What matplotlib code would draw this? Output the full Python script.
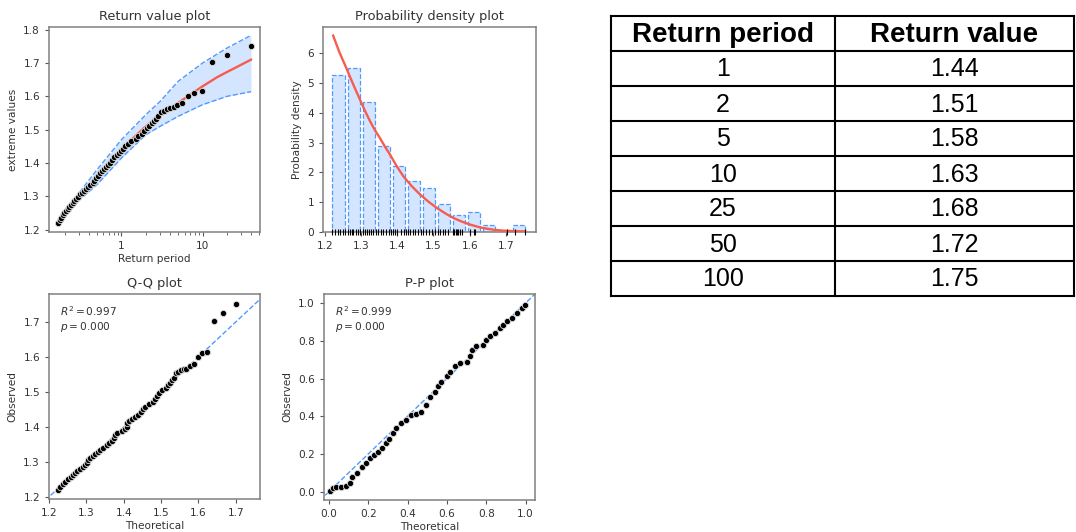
import numpy as np
import matplotlib.pyplot as plt
from matplotlib.ticker import FixedLocator, NullFormatter, FixedFormatter

# observed extremes (ascending), their plotted return periods and Q-Q theoretical quantiles
observed = [1.220, 1.228, 1.236, 1.243, 1.250, 1.257, 1.263, 1.269, 1.274, 1.279,
            1.285, 1.291, 1.298, 1.306, 1.311, 1.317, 1.322, 1.327, 1.333, 1.340,
            1.347, 1.354, 1.361, 1.369, 1.376, 1.382, 1.388, 1.393, 1.399, 1.410,
            1.418, 1.424, 1.429, 1.435, 1.443, 1.450, 1.458, 1.465, 1.472, 1.480,
            1.488, 1.496, 1.505, 1.512, 1.519, 1.526, 1.533, 1.540, 1.553, 1.556,
            1.562, 1.565, 1.567, 1.573, 1.579, 1.600, 1.611, 1.615, 1.703, 1.725, 1.752]
return_period = [0.167, 0.175, 0.182, 0.189, 0.197, 0.207, 0.218, 0.228, 0.238, 0.250,
                 0.262, 0.275, 0.288, 0.310, 0.325, 0.345, 0.365, 0.385, 0.410, 0.440,
                 0.460, 0.490, 0.520, 0.550, 0.580, 0.610, 0.650, 0.690, 0.720, 0.770,
                 0.820, 0.870, 0.930, 1.000, 1.060, 1.120, 1.220, 1.320, 1.500, 1.620,
                 1.770, 1.900, 2.050, 2.200, 2.350, 2.550, 2.700, 2.850, 3.050, 3.300,
                 3.600, 3.950, 4.400, 4.900, 5.600, 6.600, 7.900, 9.900, 13.2, 19.8, 39.5]
qq_theoretical = [1.224, 1.229, 1.237, 1.244, 1.251, 1.258, 1.263, 1.269, 1.276, 1.283,
                  1.290, 1.297, 1.301, 1.305, 1.311, 1.318, 1.324, 1.331, 1.337, 1.345,
                  1.354, 1.362, 1.368, 1.375, 1.378, 1.382, 1.396, 1.403, 1.408, 1.410,
                  1.413, 1.422, 1.430, 1.439, 1.447, 1.452, 1.457, 1.468, 1.478, 1.484,
                  1.489, 1.495, 1.502, 1.512, 1.519, 1.524, 1.529, 1.534, 1.541, 1.546,
                  1.553, 1.561, 1.568, 1.578, 1.588, 1.600, 1.611, 1.624, 1.642, 1.665, 1.700]

# fitted return value curve and confidence band
fit_rp = [0.167, 0.2, 0.3, 0.5, 0.75, 1, 1.5, 2, 3, 5, 7, 10, 15, 20, 25, 30, 39.5]
fit_value = [1.220, 1.245, 1.298, 1.355, 1.402, 1.440, 1.482, 1.510, 1.545, 1.580,
             1.605, 1.630, 1.657, 1.673, 1.685, 1.695, 1.710]
ci_rp = [0.167, 0.3, 0.5, 1, 2, 3, 5, 10, 20, 39.5]
ci_lower = [1.218, 1.288, 1.335, 1.415, 1.485, 1.510, 1.540, 1.575, 1.600, 1.614]
ci_upper = [1.222, 1.310, 1.380, 1.470, 1.545, 1.585, 1.645, 1.700, 1.745, 1.783]

# histogram and fitted pdf
hist_edges = [1.217, 1.259, 1.300, 1.342, 1.383, 1.425, 1.466, 1.508, 1.549, 1.591,
              1.632, 1.674, 1.715, 1.757]
hist_density = [5.29, 5.52, 4.37, 2.88, 2.21, 1.70, 1.48, 0.95, 0.58, 0.68, 0.22, 0.0, 0.24]
pdf_x = [1.223, 1.240, 1.258, 1.277, 1.297, 1.311, 1.325, 1.338, 1.352, 1.366, 1.380,
         1.398, 1.417, 1.440, 1.463, 1.486, 1.509, 1.532, 1.555, 1.578, 1.601, 1.624,
         1.647, 1.670, 1.694, 1.723, 1.753]
pdf_y = [6.60, 6.05, 5.55, 5.00, 4.45, 4.07, 3.72, 3.43, 3.16, 2.87, 2.60,
         2.22, 1.87, 1.54, 1.26, 1.02, 0.81, 0.63, 0.47, 0.35, 0.25, 0.17,
         0.11, 0.07, 0.045, 0.03, 0.02]

# P-P plot
pp_theoretical = [0.004, 0.020, 0.034, 0.059, 0.085, 0.105, 0.119, 0.143, 0.170, 0.190,
                  0.207, 0.229, 0.250, 0.272, 0.289, 0.306, 0.326, 0.343, 0.368, 0.394,
                  0.419, 0.445, 0.470, 0.496, 0.513, 0.538, 0.555, 0.572, 0.598, 0.615,
                  0.640, 0.666, 0.700, 0.716, 0.730, 0.750, 0.784, 0.801, 0.818, 0.844,
                  0.869, 0.886, 0.907, 0.929, 0.954, 0.980, 0.997]
pp_observed = [0.004, 0.018, 0.023, 0.023, 0.032, 0.044, 0.076, 0.097, 0.129, 0.150,
               0.177, 0.195, 0.212, 0.234, 0.257, 0.280, 0.310, 0.336, 0.363, 0.381,
               0.407, 0.411, 0.425, 0.460, 0.504, 0.531, 0.558, 0.584, 0.611, 0.637,
               0.664, 0.681, 0.690, 0.717, 0.752, 0.770, 0.779, 0.805, 0.823, 0.841,
               0.867, 0.885, 0.903, 0.920, 0.947, 0.973, 0.991]

qq_text = "$R^2 = 0.997$\n$p = 0.000$"
pp_text = "$R^2 = 0.999$\n$p = 0.000$"

# summary table
table_header = ["Return period", "Return value"]
table_periods = ["1", "2", "5", "10", "25", "50", "100"]
table_values = ["1.44", "1.51", "1.58", "1.63", "1.68", "1.72", "1.75"]

RED = "#F85C50"
BLUE = "#5199FF"
TXT = "#333333"
FS = 7.6
DOT = dict(s=20, c="k", edgecolors="#dcdcdc", linewidths=0.6, zorder=5)

fig = plt.figure(figsize=(10.76, 5.32), dpi=100)


def style(ax, title):
    ax.set_title(title, fontsize=9.3, color=TXT, pad=5)
    for s in ax.spines.values():
        s.set_color("#808080")
        s.set_linewidth(1.1)
    ax.tick_params(labelsize=FS, colors=TXT, length=3, width=0.8)
    ax.tick_params(axis="both", which="both", color="#555555")


W, H = 1076, 532


def box(l, t, r, b):
    return [l / W, 1 - b / H, (r - l) / W, (b - t) / H]


# return value plot
ax1 = fig.add_axes(box(49, 27, 260, 232))
ax1.set_xscale("log")
ax1.fill_between(ci_rp, ci_lower, ci_upper, color=BLUE, alpha=0.25, lw=0)
ax1.plot(ci_rp, ci_lower, color=BLUE, lw=1, ls="--")
ax1.plot(ci_rp, ci_upper, color=BLUE, lw=1, ls="--")
ax1.plot(fit_rp, fit_value, color=RED, lw=1.7, zorder=4)
ax1.scatter(return_period, observed, **DOT)
ax1.set_xlim(0.128, 51)
ax1.set_ylim(1.193, 1.808)
ax1.set_yticks([1.2, 1.3, 1.4, 1.5, 1.6, 1.7, 1.8])
ax1.xaxis.set_major_locator(FixedLocator([1, 10]))
ax1.xaxis.set_major_formatter(FixedFormatter(["1", "10"]))
ax1.xaxis.set_minor_formatter(NullFormatter())
ax1.set_xlabel("Return period", fontsize=FS, color=TXT, labelpad=2)
ax1.set_ylabel("extreme values", fontsize=FS, color=TXT)
style(ax1, "Return value plot")
ax1.tick_params(axis="x", which="minor", length=2)

# probability density plot
ax2 = fig.add_axes(box(323, 27, 536, 232))
edges = np.array(hist_edges)
widths = np.diff(edges)
centers = edges[:-1] + widths / 2
ax2.bar(centers, hist_density, width=widths * 0.8, color=(0.318, 0.6, 1.0, 0.25),
        edgecolor=BLUE, lw=0.9, ls="--", zorder=2)
ax2.plot(pdf_x, pdf_y, color=RED, lw=1.7, zorder=4)
ax2.plot(observed, np.zeros(len(observed)), "|", color="k", ms=5, mew=0.8, zorder=5, clip_on=False)
ax2.set_xlim(1.195, 1.783)
ax2.set_ylim(0, 6.89)
ax2.set_xticks([1.2, 1.3, 1.4, 1.5, 1.6, 1.7])
ax2.set_yticks([0, 1, 2, 3, 4, 5, 6])
ax2.set_ylabel("Probability density", fontsize=FS, color=TXT)
style(ax2, "Probability density plot")

# Q-Q plot
ax3 = fig.add_axes(box(49, 294, 260, 499))
ax3.plot([1.19, 1.79], [1.19, 1.79], color=BLUE, lw=1, ls="--", zorder=2)
ax3.scatter(qq_theoretical, observed, **DOT)
ax3.set_xlim(1.2, 1.765)
ax3.set_ylim(1.194, 1.78)
ax3.set_xticks([1.2, 1.3, 1.4, 1.5, 1.6, 1.7])
ax3.set_yticks([1.2, 1.3, 1.4, 1.5, 1.6, 1.7])
ax3.text(0.05, 0.95, qq_text, transform=ax3.transAxes, va="top", ha="left", fontsize=FS, color=TXT)
ax3.set_xlabel("Theoretical", fontsize=FS, color=TXT, labelpad=2)
ax3.set_ylabel("Observed", fontsize=FS, color=TXT)
style(ax3, "Q-Q plot")

# P-P plot
ax4 = fig.add_axes(box(324, 294, 535, 500))
ax4.plot([-0.1, 1.1], [-0.1, 1.1], color=BLUE, lw=1, ls="--", zorder=2)
ax4.scatter(pp_theoretical, pp_observed, **DOT)
ax4.set_xlim(-0.025, 1.048)
ax4.set_ylim(-0.044, 1.048)
ax4.set_xticks([0.0, 0.2, 0.4, 0.6, 0.8, 1.0])
ax4.set_yticks([0.0, 0.2, 0.4, 0.6, 0.8, 1.0])
ax4.text(0.05, 0.95, pp_text, transform=ax4.transAxes, va="top", ha="left", fontsize=FS, color=TXT)
ax4.set_xlabel("Theoretical", fontsize=FS, color=TXT, labelpad=2)
ax4.set_ylabel("Observed", fontsize=FS, color=TXT)
style(ax4, "P-P plot")

# table drawn in pixel coordinates
tax = fig.add_axes([0, 0, 1, 1])
tax.set_xlim(0, W)
tax.set_ylim(H, 0)
tax.axis("off")
top, row_h = 16, 35
left, mid, right = 611, 835, 1074
nrows = len(table_periods) + 1
for i in range(nrows + 1):
    tax.plot([left, right], [top + i * row_h] * 2, color="k", lw=1.5, solid_capstyle="projecting")
for x in (left, mid, right):
    tax.plot([x, x], [top, top + nrows * row_h], color="k", lw=1.5, solid_capstyle="projecting")
c1, c2 = (left + mid) / 2, (mid + right) / 2
tax.text(c1, top + row_h / 2 + 1, table_header[0], ha="center", va="center",
         fontsize=20, fontweight="bold", family="Liberation Sans")
tax.text(c2, top + row_h / 2 + 1, table_header[1], ha="center", va="center",
         fontsize=20, fontweight="bold", family="Liberation Sans")
for i, (p, v) in enumerate(zip(table_periods, table_values)):
    y = top + (i + 1.5) * row_h + 1
    tax.text(c1, y, p, ha="center", va="center", fontsize=18, family="Liberation Sans")
    tax.text(c2, y, v, ha="center", va="center", fontsize=18, family="Liberation Sans")

fig.savefig("out.png", dpi=100)
